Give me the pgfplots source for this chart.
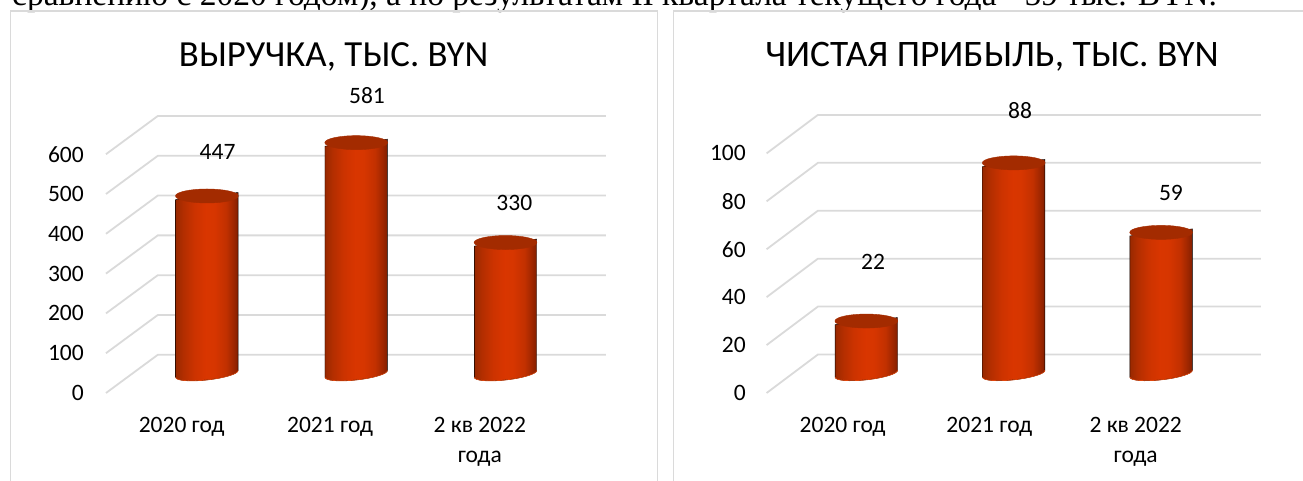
\documentclass[border=0pt]{standalone}
\usepackage{fontspec}
\setmainfont{Carlito}
\newfontfamily\bodyfont{Liberation Serif}
\usepackage{pgfplots}
\pgfplotsset{compat=1.18}
\pgfdeclarehorizontalshading{cyl}{100bp}{
  rgb(0bp)=(0.60,0.16,0);
  rgb(25bp)=(0.60,0.16,0);
  rgb(31bp)=(0.70,0.18,0);
  rgb(40bp)=(0.80,0.20,0);
  rgb(49bp)=(0.85,0.21,0);
  rgb(56bp)=(0.84,0.21,0);
  rgb(65bp)=(0.76,0.19,0);
  rgb(71bp)=(0.62,0.15,0);
  rgb(75bp)=(0.50,0.12,0);
  rgb(100bp)=(0.50,0.12,0)}
\definecolor{gridc}{HTML}{DADADA}
\definecolor{capc}{HTML}{A32B00}
\definecolor{rimc}{HTML}{E2450A}
% cylinder drawn at each data point; height comes from the point's y value
\newcommand{\cyl}[1]{%
  \pgfmathsetmacro{\h}{\myval*#1}%
  \begin{scope}[x=1pt,y=1pt]
  \shade[shading=cyl] (-31.2,-3.5-\h) -- (-31.2,-3.5) -- (31.2,3.5) -- (31.2,3.5-\h)
     .. controls (31.57,0.21-\h) and (17.9,-4.03-\h) .. (0.67,-5.96-\h)
     .. controls (-16.56,-7.89-\h) and (-30.83,-6.79-\h) .. (-31.2,-3.5-\h) -- cycle;
  \draw[rimc,line width=0.7pt] (31.2,3.5-\h)
     .. controls (31.57,0.21-\h) and (17.9,-4.03-\h) .. (0.67,-5.96-\h)
     .. controls (-16.56,-7.89-\h) and (-30.83,-6.79-\h) .. (-31.2,-3.5-\h);
  \fill[capc,rotate=6.4] (0,0) ellipse[x radius=31.4pt,y radius=7pt];
  \end{scope}
}
\pgfplotsset{
  panel/.style={
    x=#1,
    scale only axis, clip=false,
    axis line style={draw=none},
    major tick length=0pt,
    /pgf/number format/assume math mode=true,
    tick label style={font=\fontsize{23.5}{30}\selectfont,black,inner sep=0pt},
    xticklabel style={align=center,anchor=north,yshift=-24.5pt},
    yticklabel style={anchor=east},
  },
  gridl/.style={gridc,line width=1.8pt,forget plot},
  vals/.style={only marks,mark=none,point meta=explicit,
    nodes near coords,
    every node near coord/.append style={anchor=center,inner sep=0pt,font=\fontsize{23.5}{28}\selectfont,black}},
}
\begin{document}
\begin{tikzpicture}[x=1pt,y=1pt]
\useasboundingbox (0,0) rectangle (1303,481);
\begin{scope}
\clip (0,0) rectangle (1303,481);
\node[anchor=base west,inner sep=0pt,font=\bodyfont\fontsize{33.5}{36}\selectfont] at (12,475.5) {сравнению с 2020 годом), а по результатам II квартала текущего года - 59 тыс. BYN.};
\draw[gridc,line width=1.8pt] (10.5,0) -- (10.5,470) -- (657.5,470) -- (657.5,0);
\draw[gridc,line width=1.8pt] (673.5,0) -- (673.5,470) -- (1304,470);
\end{scope}
\node[font=\fontsize{36.8}{40}\selectfont] at (333.6,424.5) {ВЫРУЧКА, ТЫС. BYN};
\node[font=\fontsize{37.4}{40}\selectfont] at (992,424.5) {ЧИСТАЯ ПРИБЫЛЬ, ТЫС. BYN};

% ---------- left ----------
\begin{axis}[panel=149.3pt, y=0.398pt,
  at={(106pt,88pt)}, anchor=south west,
  xmin=-0.6758, xmax=2.6731, ymin=-48, ymax=648,
  xtick={-0.1695,0.8245,1.8279},
  xticklabels={2020 год,2021 год,2 кв 2022\\года},
  ytick={-48,52,152,252,352,452,552},
  yticklabels={0,100,200,300,400,500,600},
  yticklabel style={xshift=-22pt},
  scatter/@pre marker code/.code={\cyl{0.398}\scope[mark=none]},
  scatter/@post marker code/.code={\endscope},
]
\addplot[gridl] coordinates {(-0.6758,-48)(-0.3289,48)(2.6731,48)};
\addplot[gridl] coordinates {(-0.6758,52)(-0.3289,148)(2.6731,148)};
\addplot[gridl] coordinates {(-0.6758,152)(-0.3289,248)(2.6731,248)};
\addplot[gridl] coordinates {(-0.6758,252)(-0.3289,348)(2.6731,348)};
\addplot[gridl] coordinates {(-0.6758,352)(-0.3289,448)(2.6731,448)};
\addplot[gridl] coordinates {(-0.6758,452)(-0.3289,548)(2.6731,548)};
\addplot[gridl] coordinates {(-0.6758,552)(-0.3289,648)(2.6731,648)};
\addplot[scatter,only marks,mark=none,scatter src=y,
  visualization depends on={y\as\myval}] coordinates {(0,447)(1,581)(2,330)};
\addplot[vals] coordinates {(0.0717,557)[447] (1.0724,700)[581] (2.059,430)[330]};
\end{axis}

% ---------- right ----------
\begin{axis}[panel=147.4pt, y=2.396pt,
  at={(766.6pt,88pt)}, anchor=south west,
  xmin=-0.6764, xmax=2.6764, ymin=-8.03, ymax=108.03,
  xtick={-0.1615,0.8345,1.8277},
  xticklabels={2020 год,2021 год,2 кв 2022\\года},
  ytick={-8.03,11.97,31.97,51.97,71.97,91.97},
  yticklabels={0,20,40,60,80,100},
  yticklabel style={xshift=-20.6pt},
  scatter/@pre marker code/.code={\cyl{2.396}\scope[mark=none]},
  scatter/@post marker code/.code={\endscope},
]
\addplot[gridl] coordinates {(-0.6764,-8.03)(-0.3284,8.03)(2.6764,8.03)};
\addplot[gridl] coordinates {(-0.6764,11.97)(-0.3284,28.03)(2.6764,28.03)};
\addplot[gridl] coordinates {(-0.6764,31.97)(-0.3284,48.03)(2.6764,48.03)};
\addplot[gridl] coordinates {(-0.6764,51.97)(-0.3284,68.03)(2.6764,68.03)};
\addplot[gridl] coordinates {(-0.6764,71.97)(-0.3284,88.03)(2.6764,88.03)};
\addplot[gridl] coordinates {(-0.6764,91.97)(-0.3284,108.03)(2.6764,108.03)};
\addplot[scatter,only marks,mark=none,scatter src=y,
  visualization depends on={y\as\myval}] coordinates {(0,22)(1,88)(2,59)};
\addplot[vals] coordinates {(0.0455,46.5)[22] (1.0427,110)[88] (2.067,75.5)[59]};
\end{axis}
\end{tikzpicture}
\end{document}
